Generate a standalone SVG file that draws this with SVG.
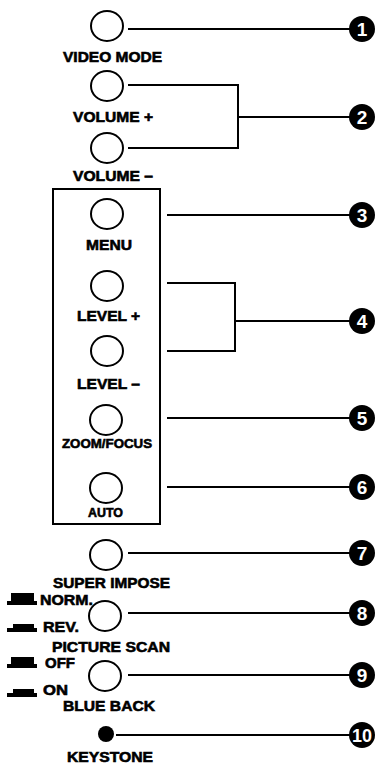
<svg xmlns="http://www.w3.org/2000/svg" width="379" height="764" viewBox="0 0 379 764">
<style>
.btn{fill:none;stroke:#000;stroke-width:2}
.ln{fill:none;stroke:#000;stroke-width:2}
.lbl{font-family:"Liberation Sans",Arial,sans-serif;font-weight:bold;font-size:15px;fill:#000;stroke:#000;stroke-width:0.6}
.sm{font-size:13px}
.bd{fill:#000}
.bn{font-family:"Liberation Sans",Arial,sans-serif;font-weight:bold;font-size:19px;fill:#fff;text-anchor:middle}
</style>
<rect width="379" height="764" fill="#fff"/>
<g id="panel"><rect x="53" y="189" width="107" height="335" fill="none" stroke="#000" stroke-width="2"/></g>
<g id="connectors">
<path class="ln" d="M128 29H352"/>
<path class="ln" d="M128 85H238V148H128M238 117H352"/>
<path class="ln" d="M167 215H352"/>
<path class="ln" d="M167 283H235V351H167M235 321H352"/>
<path class="ln" d="M167 418H352"/>
<path class="ln" d="M167 487H352"/>
<path class="ln" d="M128 553H352"/>
<path class="ln" d="M128 613H352"/>
<path class="ln" d="M128 675H352"/>
<path class="ln" d="M116 735H352"/>
</g>
<g id="n1"><ellipse class="btn" cx="107" cy="26" rx="16" ry="15"/><text class="lbl" x="63" y="62" textLength="99" lengthAdjust="spacingAndGlyphs">VIDEO MODE</text></g>
<g id="n2a"><ellipse class="btn" cx="107" cy="86" rx="16" ry="15"/><text class="lbl" x="73" y="122" textLength="80" lengthAdjust="spacingAndGlyphs">VOLUME +</text></g>
<g id="n2b"><ellipse class="btn" cx="107" cy="148" rx="16" ry="15"/><text class="lbl" x="73" y="181" textLength="80" lengthAdjust="spacingAndGlyphs">VOLUME –</text></g>
<g id="n3"><ellipse class="btn" cx="107" cy="214" rx="16" ry="15"/><text class="lbl" x="86" y="250" textLength="46" lengthAdjust="spacingAndGlyphs">MENU</text></g>
<g id="n4a"><ellipse class="btn" cx="107" cy="286" rx="16" ry="15"/><text class="lbl" x="77" y="321" textLength="63" lengthAdjust="spacingAndGlyphs">LEVEL +</text></g>
<g id="n4b"><ellipse class="btn" cx="107" cy="351" rx="16" ry="15"/><text class="lbl" x="77" y="389" textLength="63" lengthAdjust="spacingAndGlyphs">LEVEL –</text></g>
<g id="n5"><ellipse class="btn" cx="106" cy="420" rx="16" ry="15"/><text class="lbl sm" x="62" y="448" textLength="90" lengthAdjust="spacingAndGlyphs">ZOOM/FOCUS</text></g>
<g id="n6"><ellipse class="btn" cx="106" cy="488" rx="16" ry="15"/><text class="lbl sm" x="88" y="517" textLength="35" lengthAdjust="spacingAndGlyphs">AUTO</text></g>
<g id="n7"><ellipse class="btn" cx="106" cy="555" rx="16" ry="15"/><text class="lbl" x="53" y="588" textLength="117" lengthAdjust="spacingAndGlyphs">SUPER IMPOSE</text></g>
<g id="n8"><ellipse class="btn" cx="105" cy="616" rx="16" ry="15"/>
<rect class="bd" x="11" y="593" width="23" height="9"/><rect class="bd" x="7" y="601" width="30" height="4"/>
<text class="lbl" x="40" y="605" textLength="53" lengthAdjust="spacingAndGlyphs">NORM.</text>
<rect class="bd" x="13" y="624" width="21" height="5"/><rect class="bd" x="7" y="628" width="30" height="4"/>
<text class="lbl" x="43" y="632" textLength="36" lengthAdjust="spacingAndGlyphs">REV.</text>
<text class="lbl" x="52" y="652" textLength="118" lengthAdjust="spacingAndGlyphs">PICTURE SCAN</text></g>
<g id="n9"><ellipse class="btn" cx="105" cy="676" rx="16" ry="15"/>
<rect class="bd" x="11" y="657" width="23" height="8"/><rect class="bd" x="7" y="664" width="30" height="4"/>
<text class="lbl" x="45" y="668" textLength="30" lengthAdjust="spacingAndGlyphs">OFF</text>
<rect class="bd" x="13" y="689" width="21" height="5"/><rect class="bd" x="7" y="693" width="30" height="4"/>
<text class="lbl" x="43" y="695" textLength="25" lengthAdjust="spacingAndGlyphs">ON</text>
<text class="lbl" x="63" y="711" textLength="92" lengthAdjust="spacingAndGlyphs">BLUE BACK</text></g>
<g id="n10"><circle cx="106" cy="734" r="8" fill="#000"/><text class="lbl" x="67" y="762" textLength="86" lengthAdjust="spacingAndGlyphs">KEYSTONE</text></g>
<g id="b1"><circle class="bd" cx="362" cy="29" r="13"/><text class="bn" x="362" y="36">1</text></g>
<g id="b2"><circle class="bd" cx="362" cy="117" r="13"/><text class="bn" x="362" y="124">2</text></g>
<g id="b3"><circle class="bd" cx="362" cy="215" r="13"/><text class="bn" x="362" y="222">3</text></g>
<g id="b4"><circle class="bd" cx="362" cy="321" r="13"/><text class="bn" x="362" y="328">4</text></g>
<g id="b5"><circle class="bd" cx="362" cy="418" r="13"/><text class="bn" x="362" y="425">5</text></g>
<g id="b6"><circle class="bd" cx="362" cy="487" r="13"/><text class="bn" x="362" y="494">6</text></g>
<g id="b7"><circle class="bd" cx="362" cy="553" r="13"/><text class="bn" x="362" y="560">7</text></g>
<g id="b8"><circle class="bd" cx="362" cy="613" r="13"/><text class="bn" x="362" y="620">8</text></g>
<g id="b9"><circle class="bd" cx="362" cy="675" r="13"/><text class="bn" x="362" y="682">9</text></g>
<g id="b10"><circle class="bd" cx="362" cy="735" r="13"/><text class="bn" x="362" y="742" textLength="20" lengthAdjust="spacingAndGlyphs">10</text></g>
</svg>
